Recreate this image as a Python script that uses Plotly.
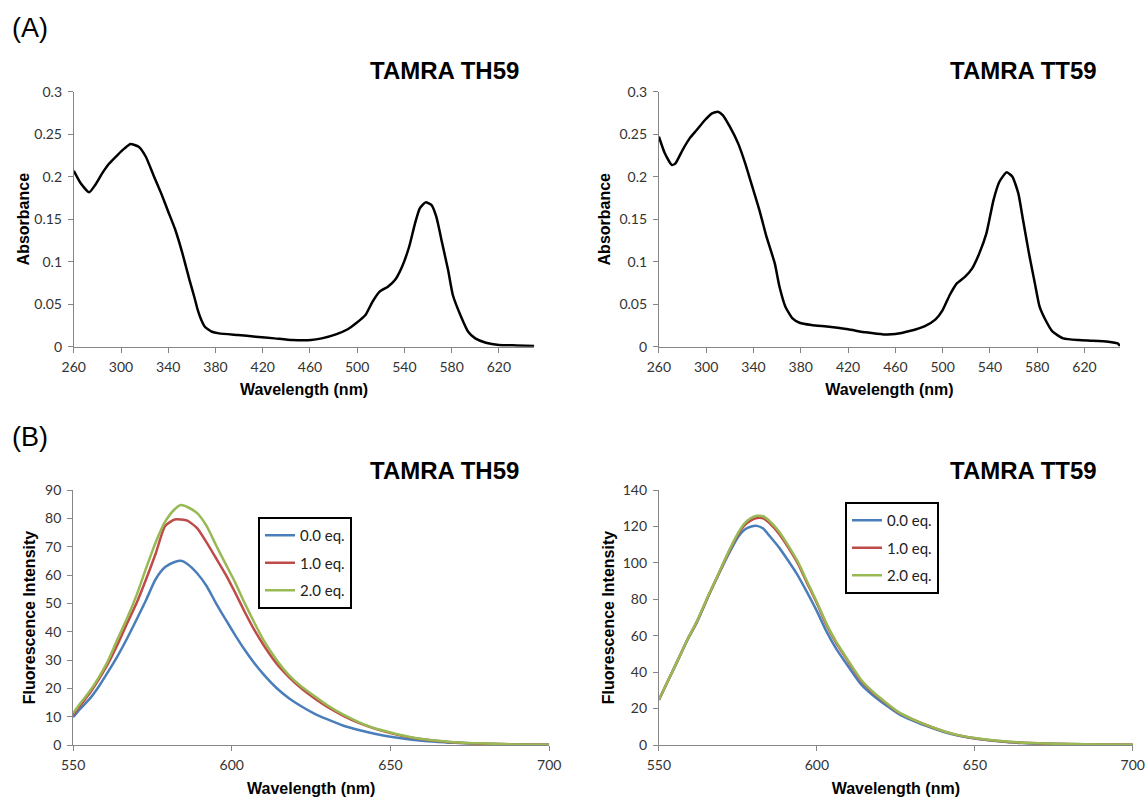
import plotly.graph_objects as go

# ---------------- data ----------------
# (A) absorbance, TAMRA TH59
abs_wl_th59 = [260, 266, 273, 278, 284, 290, 297, 303, 308, 315, 321, 328, 334, 340, 346, 352,
               355, 358, 362, 365, 368, 371, 377, 383, 399, 414, 430, 445, 461, 470, 482, 492,
               499, 507, 513, 519, 526, 532, 538, 544, 549, 553, 558, 563, 567, 572, 577, 581,
               588, 594, 600, 609, 620, 635, 650]
abs_th59 = [0.207, 0.192, 0.1816, 0.190, 0.2039, 0.2155, 0.2255, 0.2333, 0.2384, 0.2353, 0.2235,
            0.200, 0.1804, 0.1588, 0.1373, 0.1098, 0.0941, 0.0784, 0.0588, 0.0431, 0.0314,
            0.0235, 0.0176, 0.0157, 0.0137, 0.0118, 0.0098, 0.0078, 0.0078, 0.0098, 0.0145,
            0.0205, 0.0275, 0.0373, 0.0529, 0.0647, 0.0706, 0.0784, 0.0941, 0.1176, 0.1451,
            0.1627, 0.1698, 0.1667, 0.1529, 0.1216, 0.0902, 0.0608, 0.0353, 0.0176, 0.0098,
            0.0047, 0.0020, 0.0015, 0.0008]

# (A) absorbance, TAMRA TT59
abs_wl_tt59 = [260, 265, 271, 274, 280, 286, 292, 299, 305, 310, 314, 320, 327, 333, 339, 345,
               351, 358, 362, 367, 373, 379, 389, 404, 420, 435, 450, 460, 472, 485, 494, 500,
               506, 512, 519, 525, 531, 537, 543, 548, 554, 559, 564, 568, 573, 578, 582, 587,
               593, 602, 615, 627, 640, 648, 650]
abs_tt59 = [0.247, 0.2275, 0.2137, 0.2157, 0.2314, 0.2451, 0.2549, 0.2667, 0.2745, 0.2765,
            0.2725, 0.2588, 0.2392, 0.2157, 0.1882, 0.1608, 0.1294, 0.098, 0.0706, 0.0471,
            0.0333, 0.0282, 0.0255, 0.0235, 0.0204, 0.0169, 0.0145, 0.0149, 0.0184, 0.0243,
            0.0322, 0.0431, 0.0608, 0.0745, 0.0824, 0.0922, 0.1098, 0.1333, 0.1725, 0.1941,
            0.2051, 0.200, 0.1804, 0.149, 0.1098, 0.0745, 0.0471, 0.0314, 0.0176, 0.0098,
            0.0078, 0.0071, 0.0059, 0.0039, 0.0010]

# (B) fluorescence, TAMRA TH59
fl_wl_th59 = [550, 552, 555, 558, 561, 564, 567, 570, 573, 576, 579, 582, 584, 586, 589, 592,
              595, 598, 601, 604, 607, 610, 614, 618, 622, 626, 630, 635, 640, 645, 650, 655,
              660, 665, 670, 680, 690, 700]
fl_th59_0eq = [9.8, 12.5, 16.0, 20.5, 25.8, 31.4, 37.6, 44.3, 51.2, 58.5, 62.8, 64.6, 65.0, 63.9,
               60.7, 56.2, 50.1, 44.4, 38.9, 33.7, 29.0, 24.9, 20.2, 16.5, 13.6, 11.1, 9.1, 6.9,
               5.3, 4.0, 2.9, 2.1, 1.5, 1.1, 0.75, 0.35, 0.15, 0.1]
fl_th59_1eq = [10.6, 13.6, 17.9, 23.0, 28.7, 35.5, 42.9, 50.1, 58.5, 67.5, 77.3, 79.6, 79.6, 79.2,
               76.6, 71.6, 66.0, 60.3, 53.9, 47.1, 40.8, 35.3, 28.9, 24.0, 19.9, 16.5, 13.5, 10.4,
               7.8, 5.8, 4.2, 2.9, 2.0, 1.4, 0.9, 0.45, 0.2, 0.1]
fl_th59_2eq = [11.2, 14.3, 18.6, 23.7, 29.7, 37.4, 44.7, 52.9, 62.4, 71.5, 78.8, 83.2, 84.7, 84.0,
               81.9, 77.4, 70.6, 64.0, 57.5, 50.2, 43.4, 37.0, 30.2, 24.7, 20.6, 17.3, 14.1, 10.8,
               8.1, 5.9, 4.4, 3.1, 2.1, 1.5, 1.0, 0.5, 0.2, 0.1]

# (B) fluorescence, TAMRA TT59
fl_wl_tt59 = [550, 553, 556, 559, 562, 566, 569, 572, 575, 577, 579, 581, 583, 585, 588, 591,
              594, 597, 600, 603, 606, 610, 614, 618, 622, 626, 630, 635, 640, 645, 650, 655,
              660, 665, 670, 680, 690, 700]
fl_tt59_0eq = [24.7, 35.7, 46.5, 57.5, 67.3, 83.0, 94.0, 104.6, 114.1, 118.1, 119.8, 120.3, 118.8,
               114.8, 108.5, 101.0, 93.0, 83.5, 73.5, 62.5, 53.2, 43.0, 33.3, 26.9, 21.7, 17.0,
               13.7, 10.2, 7.3, 5.0, 3.5, 2.4, 1.6, 1.1, 0.7, 0.35, 0.15, 0.1]
fl_tt59_1eq = [24.8, 35.7, 46.6, 57.8, 67.6, 83.2, 94.3, 105.6, 115.5, 120.5, 123.2, 124.6, 124.5,
               121.9, 116.0, 108.3, 99.6, 88.6, 77.8, 66.0, 56.3, 45.6, 35.3, 28.4, 22.8, 17.7,
               14.3, 10.7, 7.6, 5.2, 3.7, 2.6, 1.8, 1.3, 0.9, 0.5, 0.3, 0.2]
fl_tt59_2eq = [24.8, 35.7, 46.6, 57.8, 67.8, 83.4, 94.6, 106.0, 116.2, 121.5, 124.5, 125.8, 125.6,
               123.0, 117.2, 109.3, 100.5, 89.5, 78.5, 66.8, 57.0, 46.2, 35.8, 28.8, 23.1, 17.9,
               14.4, 10.8, 7.7, 5.3, 3.8, 2.7, 1.9, 1.3, 0.9, 0.5, 0.3, 0.2]

series_names = ["0.0 eq.", "1.0 eq.", "2.0 eq."]
series_colors = ["#4A7EBB", "#BE4B48", "#98B954"]

abs_xticks = [260, 300, 340, 380, 420, 460, 500, 540, 580, 620]
abs_yticks = [0, 0.05, 0.1, 0.15, 0.2, 0.25, 0.3]
abs_yticktext = ["0", "0.05", "0.1", "0.15", "0.2", "0.25", "0.3"]
fl_xticks = [550, 600, 650, 700]
fl_th59_yticks = [0, 10, 20, 30, 40, 50, 60, 70, 80, 90]
fl_tt59_yticks = [0, 20, 40, 60, 80, 100, 120, 140]

panel_titles = ["TAMRA TH59", "TAMRA TT59", "TAMRA TH59", "TAMRA TT59"]
panel_labels = ["(A)", "(B)"]

# ---------------- figure ----------------
# the page body margin is removed (post_script), so the figure fills the 1146x800 window
W, H = 1146, 800


def fx(p):
    return p / W


def fy(p):
    return 1 - p / H


TICK_FONT = dict(family="Lato, 'Open Sans', sans-serif", size=14, color="#333333")
TITLE_FONT = dict(family="'Liberation Sans', Arial, sans-serif", size=16, color="black", weight="bold")
AXIS_COLOR = "#868686"

fig = go.Figure()

fig.add_trace(go.Scatter(x=abs_wl_th59, y=abs_th59, mode="lines", showlegend=False,
                         line=dict(color="black", width=2.5, shape="spline", smoothing=0.5),
                         xaxis="x", yaxis="y", name="TH59 absorbance"))
fig.add_trace(go.Scatter(x=abs_wl_tt59, y=abs_tt59, mode="lines", showlegend=False,
                         line=dict(color="black", width=2.5, shape="spline", smoothing=0.5),
                         xaxis="x2", yaxis="y2", name="TT59 absorbance"))

for i, ys in enumerate([fl_th59_0eq, fl_th59_1eq, fl_th59_2eq]):
    fig.add_trace(go.Scatter(x=fl_wl_th59, y=ys, mode="lines", name=series_names[i],
                             line=dict(color=series_colors[i], width=2.5, shape="spline", smoothing=0.6),
                             xaxis="x3", yaxis="y3", legend="legend", legendgroup="th%d" % i))
for i, ys in enumerate([fl_tt59_0eq, fl_tt59_1eq, fl_tt59_2eq]):
    fig.add_trace(go.Scatter(x=fl_wl_tt59, y=ys, mode="lines", name=series_names[i],
                             line=dict(color=series_colors[i], width=2.5, shape="spline", smoothing=0.6),
                             xaxis="x4", yaxis="y4", legend="legend2", legendgroup="tt%d" % i))


def xax(domain, anchor, rng, tickvals, standoff):
    return dict(domain=domain, anchor=anchor, range=rng, tickmode="array", tickvals=tickvals,
                showline=True, linecolor=AXIS_COLOR, linewidth=1, ticks="outside", ticklen=5,
                tickcolor=AXIS_COLOR, tickfont=TICK_FONT, showgrid=False, zeroline=False,
                automargin=False, ticklabeloverflow="allow", ticklabelstandoff=2,
                title=dict(text="Wavelength (nm)", font=TITLE_FONT, standoff=standoff))


def yax(domain, anchor, rng, tickvals, ticktext, title, standoff):
    return dict(domain=domain, anchor=anchor, range=rng, tickmode="array", tickvals=tickvals,
                ticktext=ticktext, showline=True, linecolor=AXIS_COLOR, linewidth=1,
                ticks="outside", ticklen=5, tickcolor=AXIS_COLOR, tickfont=TICK_FONT,
                showgrid=False, zeroline=False, automargin=False, ticklabelstandoff=3,
                title=dict(text=title, font=TITLE_FONT, standoff=standoff))


yA = [fy(346.7), fy(91.7)]
yB = [fy(745), fy(490)]

legend_common = dict(xanchor="left", yanchor="top", bordercolor="black", borderwidth=2,
                     bgcolor="white", font=dict(family="Lato, 'Open Sans', sans-serif", size=15,
                                                color="#222222"),
                     tracegroupgap=5, itemwidth=30)

fig.update_layout(
    width=W, height=H,
    margin=dict(l=0, r=0, t=0, b=0, pad=0, autoexpand=False),
    paper_bgcolor="white", plot_bgcolor="white",
    xaxis=xax([fx(73.8), fx(534.3)], "y", [260, 650], abs_xticks, 10),
    yaxis=yax(yA, "x", [0, 0.3], abs_yticks, abs_yticktext, "Absorbance", 0),
    xaxis2=xax([fx(658.9), fx(1120)], "y2", [260, 650], abs_xticks, 10),
    yaxis2=yax(yA, "x2", [0, 0.3], abs_yticks, abs_yticktext, "Absorbance", 4),
    xaxis3=xax([fx(73.1), fx(549.2)], "y3", [550, 700], fl_xticks, 11),
    yaxis3=yax(yB, "x3", [0, 90], fl_th59_yticks, [str(v) for v in fl_th59_yticks],
               "Fluorescence Intensity", 5),
    xaxis4=xax([fx(658.9), fx(1132.8)], "y4", [550, 700], fl_xticks, 11),
    yaxis4=yax(yB, "x4", [0, 140], fl_tt59_yticks, [str(v) for v in fl_tt59_yticks],
               "Fluorescence Intensity", 4),
    legend=dict(x=fx(258), y=fy(517), **legend_common),
    legend2=dict(x=fx(845), y=fy(502), **legend_common),
)

title_font = dict(family="'Liberation Sans', Arial, sans-serif", size=24, color="black", weight="bold")
title_pos = [(520.7, 70), (1099, 70), (520.7, 470.7), (1099, 470.7)]
for txt, (px, py) in zip(panel_titles, title_pos):
    fig.add_annotation(text=txt, x=fx(px), y=fy(py), xref="paper", yref="paper",
                       xanchor="right", yanchor="middle", showarrow=False, font=title_font)

label_font = dict(family="'Liberation Sans', Arial, sans-serif", size=27, color="black")
for txt, py in zip(panel_labels, [27.5, 437]):
    fig.add_annotation(text=txt, x=fx(10), y=fy(py), xref="paper", yref="paper",
                       xanchor="left", yanchor="middle", showarrow=False, font=label_font)

fig.write_html("out.html", config={"displayModeBar": False},
               post_script="document.body.style.margin='0px';document.body.style.overflow='hidden';")
